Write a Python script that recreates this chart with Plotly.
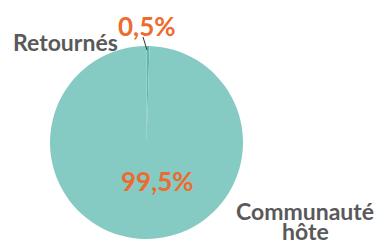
import plotly.graph_objects as go

labels = ["Retournés", "Communauté hôte"]
values = [0.5, 99.5]
pct_text = ["0,5%", "99,5%"]
colors = ["#5DB8B0", "#86CAC4"]

W, H = 384, 240
O = 8  # page body margin offset

def px(x):
    return (x - O) / W

def py(y):
    return 1 - (y - O) / H

fig = go.Figure(go.Pie(
    labels=labels, values=values, sort=False, direction="clockwise",
    rotation=0, marker=dict(colors=colors, line=dict(width=0)),
    textinfo="none", hoverinfo="label+percent", showlegend=False,
    domain=dict(x=[px(50), px(243)], y=[py(239), py(46)]),
))

font = "Lato, Open Sans, sans-serif"
orange = "#EE6B2F"
gray = "#595959"

def ann(x, y, text, size, color):
    fig.add_annotation(x=px(x), y=py(y), xref="paper", yref="paper", text="<b>" + text + "</b>",
                       showarrow=False, xanchor="center", yanchor="middle",
                       font=dict(family=font, size=size, color=color))

ann(147, 26, pct_text[0], 26, orange)
ann(157, 181, pct_text[1], 26, orange)
ann(65, 42, labels[0], 23, gray)
ann(305, 211, "Communauté", 23, gray)
ann(305, 231, "hôte", 23, gray)

fig.add_shape(type="line", xref="paper", yref="paper", x0=px(143), y0=py(37), x1=px(147), y1=py(50),
              line=dict(color="#333333", width=1))

fig.update_layout(width=W, height=H, margin=dict(l=0, r=0, t=0, b=0),
                  paper_bgcolor="white", plot_bgcolor="white")
fig.write_html("out.html")
